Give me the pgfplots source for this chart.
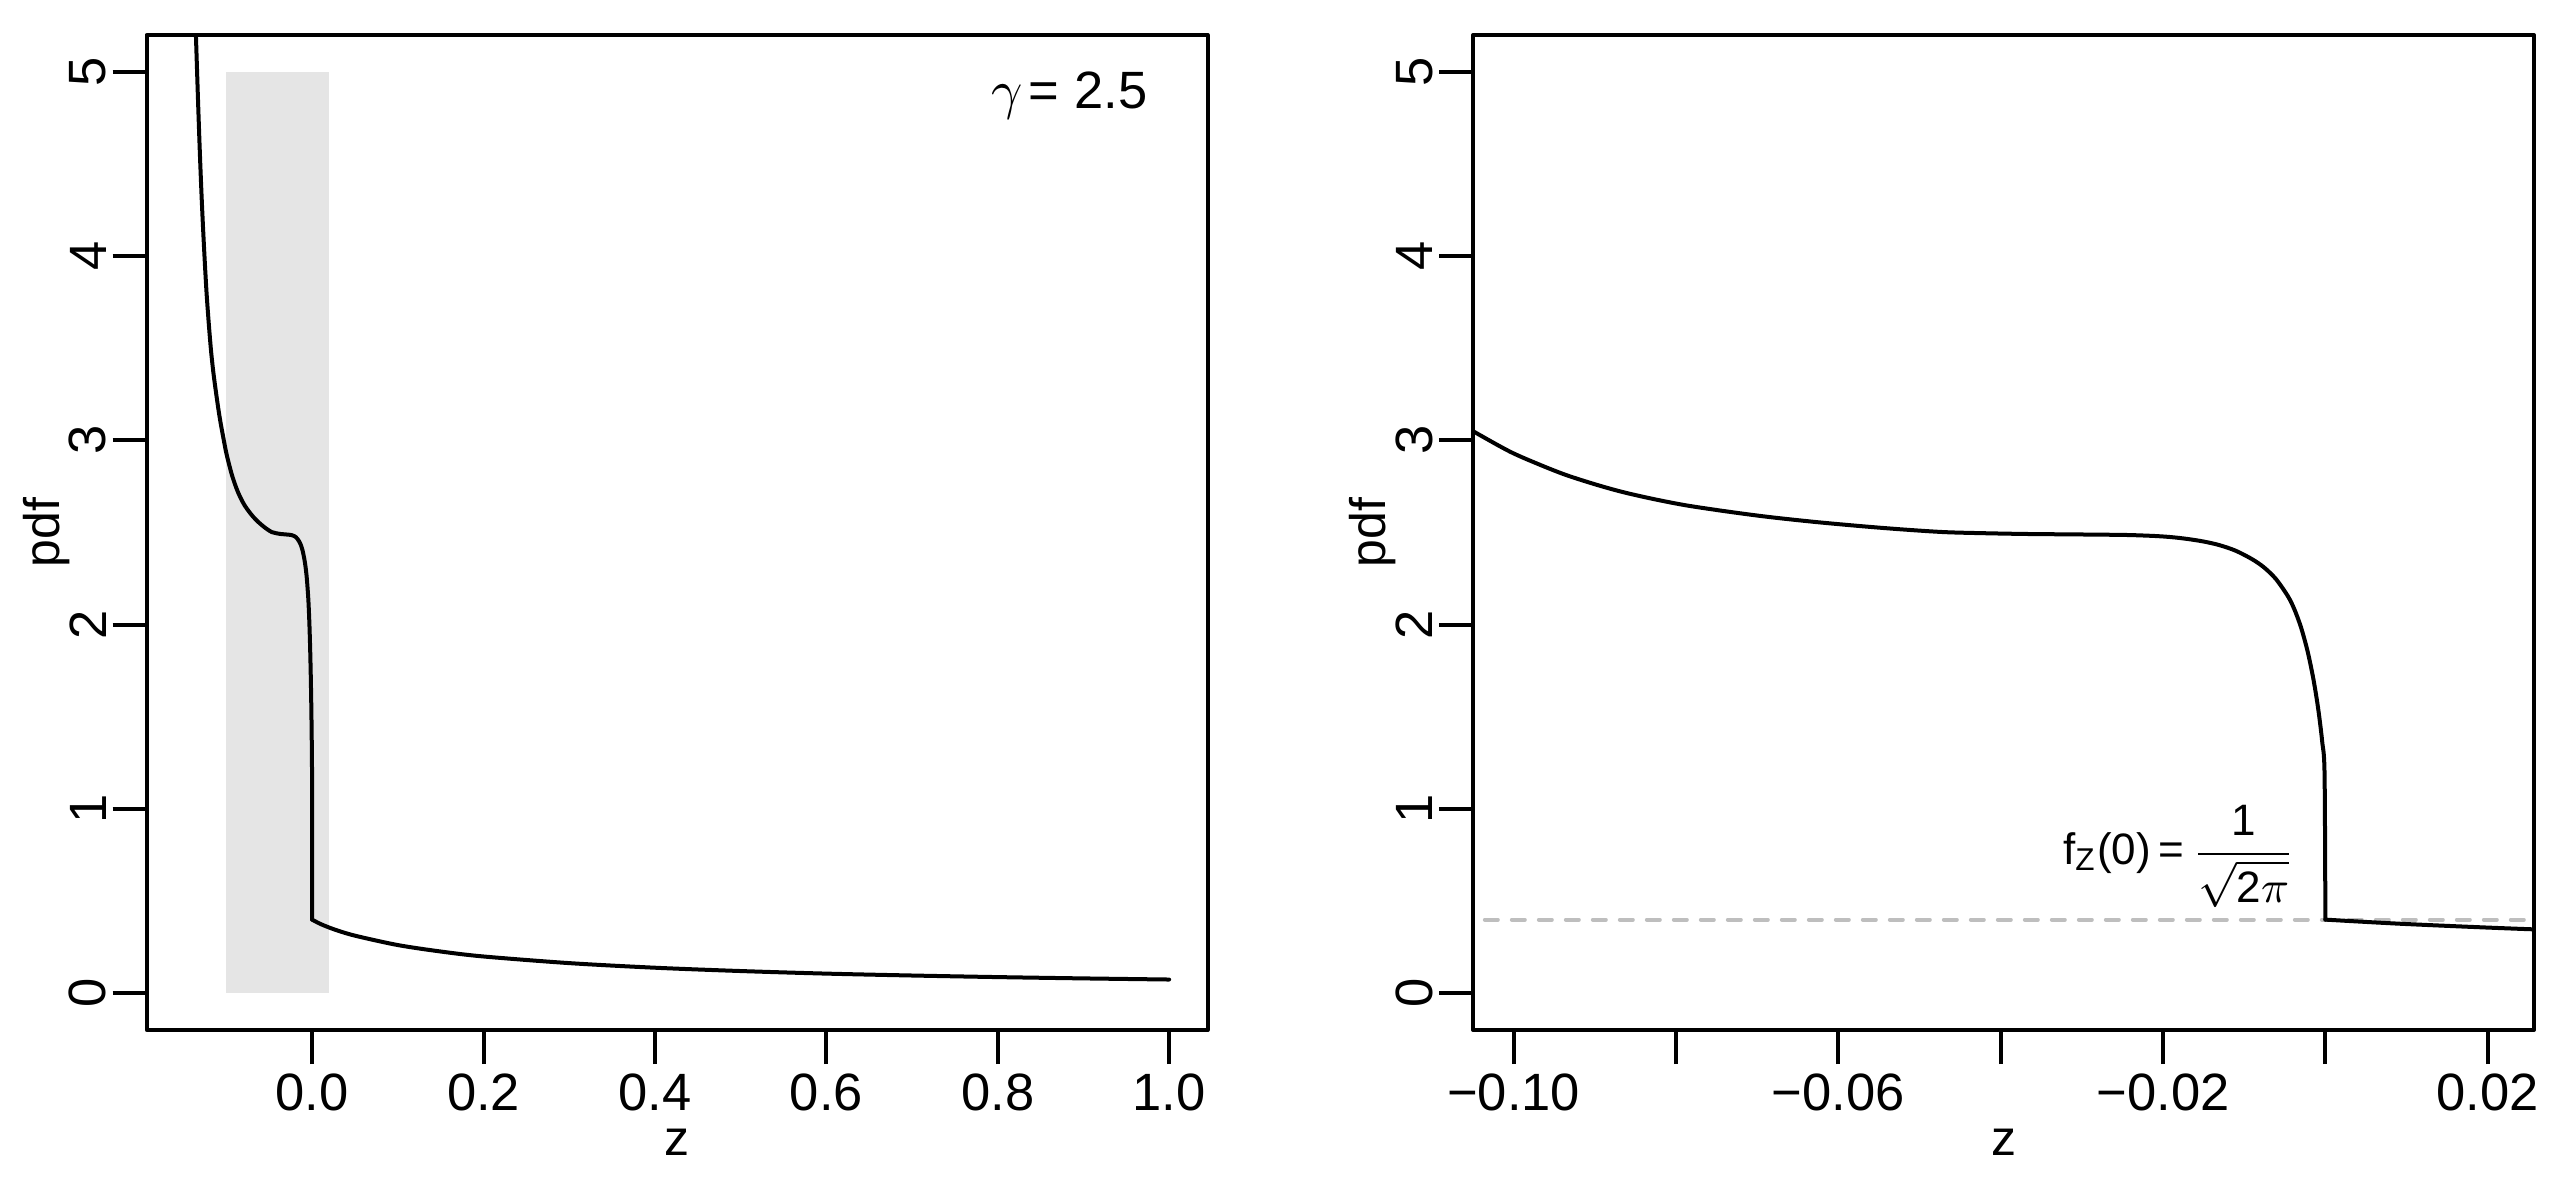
\documentclass[border=0pt]{standalone}
\usepackage{fontspec}
\setmainfont{Liberation Sans}
\usepackage{pgfplots}
\pgfplotsset{compat=1.18}
\usepackage{pgfplotstable}
\definecolor{rgrayninety}{HTML}{E5E5E5}
\definecolor{rgray}{HTML}{BEBEBE}

% pdf for z <= 0
\pgfplotstableread{
z y
-0.1372 5.45
-0.1355 5.19
-0.1330 4.83
-0.1308 4.54
-0.1288 4.31
-0.1270 4.13
-0.1250 3.95
-0.1230 3.79
-0.1205 3.63
-0.1180 3.49
-0.1155 3.38
-0.1130 3.29
-0.1100 3.19
-0.1075 3.115
-0.1050 3.05
-0.1005 2.94
-0.0970 2.872
-0.0936 2.813
-0.0900 2.762
-0.0866 2.72
-0.0827 2.681
-0.0787 2.647
-0.0737 2.614
-0.0687 2.585
-0.0628 2.557
-0.0568 2.533
-0.0519 2.516
-0.0469 2.502
-0.0419 2.496
-0.0369 2.492
-0.0320 2.490
-0.0270 2.488
-0.0240 2.486
-0.0210 2.481
-0.0190 2.475
-0.0170 2.465
-0.0150 2.451
-0.0131 2.432
-0.0111 2.402
-0.0091 2.357
-0.0076 2.312
-0.0061 2.248
-0.0046 2.153
-0.0038 2.081
-0.0030 1.985
-0.0022 1.857
-0.0015 1.71
-0.0009 1.548
-0.0004 1.368
-0.0001 1.19
0.0000 0.399
}\pdfneg

% pdf for z >= 0
\pgfplotstableread{
z y
0.0000 0.399
0.0100 0.375
0.0258 0.346
0.0500 0.312
0.1000 0.261
0.1500 0.226
0.2000 0.199
0.3000 0.163
0.4000 0.138
0.5000 0.120
0.6000 0.106
0.7000 0.0957
0.8000 0.0871
0.9000 0.080
1.0000 0.0739
}\pdfpos

\pgfplotsset{rstyle/.style={
  scale only axis, width=212.2pt, height=199pt,
  axis line style={line width=0.8pt, line cap=round, line join=round},
  every tick/.style={line width=0.8pt, black},
  tick align=outside, major tick length=6.8pt,
  xtick pos=lower, ytick pos=left,
  ymin=-0.2, ymax=5.2, ytick={0,1,2,3,4,5},
  yticklabels={0,1,2,3,4,5},
  tick label style={font=\fontsize{10.5}{12}\selectfont},
  label style={font=\fontsize{10.5}{12}\selectfont},
  yticklabel style={rotate=90, anchor=south, inner sep=0pt},
  xticklabel style={anchor=north, inner sep=0pt},
  yticklabel shift=1.1pt, xticklabel shift=1.7pt,
  every axis x label/.style={at={(axis description cs:0.5,0)}, yshift=-22.4pt, anchor=center, inner sep=0pt},
  every axis y label/.style={at={(axis description cs:0,0.5)}, xshift=-20.1pt, anchor=center, rotate=90, inner sep=0pt},
  xlabel={z}, ylabel={pdf},
}, curvestyle/.style={black, line width=0.8pt, line join=round, line cap=round, smooth, tension=0.5}}

\begin{document}
\begin{tikzpicture}
\useasboundingbox (0,0) rectangle (512.4pt,236pt);
\begin{axis}[rstyle, at={(29.34pt,30pt)}, anchor=south west,
  xmin=-0.193, xmax=1.045,
  xtick={0,0.2,0.4,0.6,0.8,1.0},
  xticklabels={0.0,0.2,0.4,0.6,0.8,1.0}]
\addplot[fill=rgrayninety, draw=none] coordinates {(-0.1,0) (0.02,0) (0.02,5) (-0.1,5)} -- cycle;
\addplot[curvestyle] table[x=z, y=y] {\pdfneg};
\addplot[curvestyle] table[x=z, y=y] {\pdfpos};
\node[anchor=east, inner sep=0pt, font=\fontsize{10.5}{12}\selectfont] at (axis cs:0.976,4.87) {$\gamma$\hspace{1.2pt}=\hspace{3pt}2.5};
\end{axis}
\begin{axis}[rstyle, at={(294.6pt,30pt)}, anchor=south west,
  xmin=-0.105, xmax=0.0257,
  xtick={-0.10,-0.08,-0.06,-0.04,-0.02,0,0.02},
  xticklabels={−0.10,,−0.06,,−0.02,,0.02}]
\addplot[rgray, line width=0.8pt, dash pattern=on 2.6pt off 2.8pt, line cap=round] coordinates {(-0.2,0.3989) (0.1,0.3989)};
\addplot[curvestyle] table[x=z, y=y] {\pdfneg};
\addplot[curvestyle] table[x=z, y=y] {\pdfpos};
\node[anchor=east, inner sep=0pt, font=\fontsize{8.8}{11}\selectfont] at (axis cs:-0.0036,0.742) {$\mbox{f}_{\mbox{\fontsize{6.3}{7}\selectfont Z}}\mbox{(0)}\,\mbox{=}\,\displaystyle\frac{\mbox{1}}{\sqrt{\mbox{2}\pi}}$};
\end{axis}
\end{tikzpicture}
\end{document}
